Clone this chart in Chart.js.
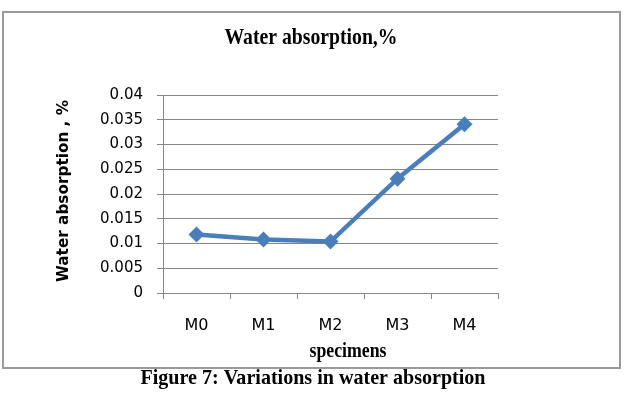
<!DOCTYPE html>
<html>
<head>
<meta charset="utf-8">
<script src="https://cdn.jsdelivr.net/npm/chart.js@4/dist/chart.umd.min.js"></script>
<style>
  html, body { margin: 0; padding: 0; background: #fff; }
  #wrap { width: 628px; height: 406px; }
</style>
</head>
<body>
<div id="wrap"><canvas id="myChart" width="628" height="406"></canvas></div>
<script>
// データ
const specimens = ['M0', 'M1', 'M2', 'M3', 'M4'];
const waterAbsorption = [0.0118, 0.0108, 0.0104, 0.0231, 0.0341];
const yTicks = [0, 0.005, 0.01, 0.015, 0.02, 0.025, 0.03, 0.035, 0.04];

const chartTitle = 'Water absorption,%';
const yTitle = 'Water absorption , %';
const xTitle = 'specimens';
const caption = 'Figure 7: Variations in water absorption';

// 幅を合わせてテキストを描く
function drawFit(ctx, text, x, y, font, width, rotate) {
    ctx.save();
    ctx.font = font;
    const w = ctx.measureText(text).width;
    ctx.translate(x, y);
    if (rotate) ctx.rotate(-Math.PI / 2);
    ctx.scale(width / w, 1);
    ctx.textAlign = 'center';
    ctx.textBaseline = 'middle';
    ctx.fillStyle = '#000';
    ctx.fillText(text, 0, 0);
    ctx.restore();
}

// 枠とタイトル類
const decorations = {
    id: 'decorations',
    beforeDraw(chart) {
        const { ctx } = chart;
        ctx.save();
        ctx.fillStyle = '#fff';
        ctx.fillRect(0, 0, chart.width, chart.height);
        ctx.strokeStyle = '#9a9a9a';
        ctx.lineWidth = 2;
        ctx.strokeRect(3, 12, 617, 356);
        ctx.restore();
    },
    afterDraw(chart) {
        const { ctx } = chart;
        drawFit(ctx, chartTitle, 311, 38, 'bold 24px "Liberation Serif"', 173);
        drawFit(ctx, yTitle, 64, 191, 'bold 16px "DejaVu Sans"', 182, true);
        drawFit(ctx, xTitle, 348, 352, 'bold 21px "Liberation Serif"', 77);
        drawFit(ctx, caption, 313, 378, 'bold 22px "Liberation Serif"', 345);
    }
};

const config = {
    type: 'line',
    data: {
        labels: specimens,
        datasets: [{
            data: waterAbsorption,
            borderColor: '#4a7ebb',
            backgroundColor: '#4a7ebb',
            borderWidth: 4.5,
            pointStyle: 'rectRot',
            pointRadius: 8,
            pointBorderWidth: 0,
            tension: 0
        }]
    },
    options: {
        responsive: false,
        animation: false,
        layout: { padding: { top: 95, right: 130, left: 0, bottom: 0 } },
        plugins: {
            legend: { display: false },
            tooltip: { enabled: false },
            title: { display: false }
        },
        scales: {
            x: {
                offset: true,
                grid: {
                    offset: true,
                    drawOnChartArea: false,
                    color: '#868686',
                    tickLength: 6
                },
                border: { color: '#868686', width: 1 },
                ticks: {
                    color: '#000',
                    font: { family: 'DejaVu Sans', size: 16 },
                    padding: 17,
                    maxRotation: 0
                },
                afterFit(scale) { scale.height = 113; }
            },
            y: {
                min: 0,
                max: 0.04,
                afterBuildTicks(scale) {
                    scale.ticks = yTicks.map(v => ({ value: v }));
                },
                grid: {
                    color: '#868686',
                    tickLength: 6
                },
                border: { color: '#868686', width: 1 },
                ticks: {
                    color: '#000',
                    font: { family: 'DejaVu Sans', size: 15 },
                    padding: 14,
                    callback: v => String(v)
                },
                afterFit(scale) { scale.width = 163; }
            }
        }
    },
    plugins: [decorations]
};

const myChart = new Chart(document.getElementById('myChart'), config);
</script>
</body>
</html>
